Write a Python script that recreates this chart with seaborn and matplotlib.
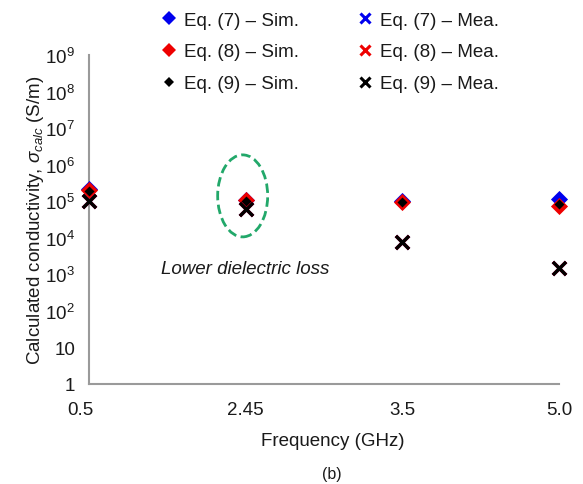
import matplotlib
matplotlib.use("Agg")
import matplotlib.pyplot as plt
import matplotlib.transforms as mtransforms
from matplotlib.lines import Line2D
from matplotlib.patches import Ellipse
import pandas as pd
import seaborn as sns

# Frequency bands (categorical axis) and conductivity values (S/m)
frequencies = ["0.5", "2.45", "3.5", "5.0"]
sim_eq7 = [2.1e5, 1.1e5, 1.0e5, 1.15e5]
sim_eq8 = [2.0e5, 1.05e5, 0.98e5, 7.5e4]
sim_eq9 = [1.9e5, 1.0e5, 0.95e5, 8.2e4]
mea_eq7 = [1.0e5, 6.0e4, 7.5e3, 1.5e3]
mea_eq8 = [1.0e5, 6.0e4, 7.5e3, 1.5e3]
mea_eq9 = [1.0e5, 6.0e4, 7.5e3, 1.5e3]

series_labels = ["Eq. (7) \u2013 Sim.", "Eq. (8) \u2013 Sim.", "Eq. (9) \u2013 Sim.",
                 "Eq. (7) \u2013 Mea.", "Eq. (8) \u2013 Mea.", "Eq. (9) \u2013 Mea."]

ytick_values = [1, 1e1, 1e2, 1e3, 1e4, 1e5, 1e6, 1e7, 1e8, 1e9]
ytick_labels = ["1", "10"] + [r"$\mathregular{10^{%d}}$" % k for k in range(2, 10)]

annotation_text = "Lower dielectric loss"

sns.set_theme(style="white")
plt.rcParams["font.family"] = ["Liberation Sans", "DejaVu Sans"]
plt.rcParams["mathtext.fontset"] = "custom"
plt.rcParams["mathtext.rm"] = "Liberation Sans"
plt.rcParams["mathtext.it"] = "Liberation Sans:italic"
plt.rcParams["mathtext.bf"] = "Liberation Sans:bold"

FS = 13.5
TXT = "#1a1a1a"
AX = "#9a9a9a"

fig = plt.figure(figsize=(5.83, 4.85), dpi=100)
ax = fig.add_axes([89 / 583, 1 - 385 / 485, 470 / 583, 329 / 485])

# One styled layer per series: (values, colour, marker, size, line width)
layers = [
    (sim_eq7, "#0000ee", "D", 76, 0),
    (sim_eq8, "#ee0000", "D", 76, 0),
    (sim_eq9, "#000000", "D", 26, 0),
    (mea_eq7, "#0000ee", "x", 90, 2.4),
    (mea_eq8, "#ee0000", "x", 90, 2.4),
    (mea_eq9, "#000000", "x", 90, 2.4),
]
for (vals, col, mk, size, lw), lab in zip(layers, series_labels):
    df = pd.DataFrame({"Frequency": frequencies, "Conductivity": vals})
    if mk == "x":
        sns.scatterplot(data=df, x="Frequency", y="Conductivity", ax=ax,
                        color=col, marker=mk, s=size, linewidth=lw,
                        clip_on=False, zorder=3, legend=False)
    else:
        sns.scatterplot(data=df, x="Frequency", y="Conductivity", ax=ax,
                        color=col, marker=mk, s=size, linewidth=lw,
                        edgecolor=col, clip_on=False, zorder=3, legend=False)

ax.set_yscale("log")
ax.set_ylim(1, 1e9)
ax.set_xlim(0, len(frequencies) - 1)
ax.set_yticks(ytick_values)
ax.set_yticklabels(ytick_labels)
ax.yaxis.set_minor_locator(matplotlib.ticker.NullLocator())

for side in ["top", "right"]:
    ax.spines[side].set_visible(False)
for side in ["left", "bottom"]:
    ax.spines[side].set_color(AX)
    ax.spines[side].set_linewidth(1.5)

ax.tick_params(axis="both", direction="in", colors=AX, labelcolor=TXT,
               labelsize=FS, width=1.2)
ax.tick_params(axis="y", length=2.5, pad=10)
ax.tick_params(axis="x", length=3.5, pad=12)

# First frequency label sits slightly left of the axis corner
first_lbl = ax.get_xticklabels()[0]
first_lbl.set_transform(first_lbl.get_transform() +
                        mtransforms.ScaledTranslation(-9 / 100, 0, fig.dpi_scale_trans))

ax.set_xlabel("Frequency (GHz)", fontsize=FS, color=TXT)
ax.xaxis.label.set_va("center")
ax.xaxis.set_label_coords((333 - 89) / 470, -(442 - 385) / 329)
ax.set_ylabel(r"Calculated conductivity, $\sigma_{calc}$ (S/m)", fontsize=FS, color=TXT)
ax.yaxis.label.set_va("center")
ax.yaxis.set_label_coords(-(89 - 36) / 470, 0.5)

fig.text(332 / 583, 1 - 475 / 485, "(b)", ha="center", va="center",
         fontsize=FS * 0.85, color=TXT)

# Annotation below the 2.45 GHz group
ax.text(1, 1.4e3, annotation_text, ha="center", va="center",
        fontsize=FS, style="italic", color=TXT)

# Dashed ellipse around the 2.45 GHz points
fig.canvas.draw()
cx, cy = ax.transData.transform((1, 1.4e5))
acx, acy = ax.transAxes.inverted().transform((cx - 3, cy))
ax.add_patch(Ellipse((acx, acy), 50 / 470, 82 / 329, transform=ax.transAxes,
                     fill=False, edgecolor="#22a86a", linewidth=2.0,
                     linestyle=(0, (3.4, 1.6)), clip_on=False, zorder=2))

# Legend
handles = [
    Line2D([], [], linestyle="none", marker="D", color="#0000ee", markersize=7.2, markeredgewidth=0),
    Line2D([], [], linestyle="none", marker="D", color="#ee0000", markersize=7.2, markeredgewidth=0),
    Line2D([], [], linestyle="none", marker="D", color="#000000", markersize=4.6, markeredgewidth=0),
    Line2D([], [], linestyle="none", marker="x", color="#0000ee", markersize=7.5, markeredgewidth=2.2),
    Line2D([], [], linestyle="none", marker="x", color="#ee0000", markersize=7.5, markeredgewidth=2.2),
    Line2D([], [], linestyle="none", marker="x", color="#000000", markersize=7.5, markeredgewidth=2.2),
]
fig.legend(handles, series_labels, ncol=2, loc="upper left",
           bbox_to_anchor=(152 / 583, 1 - 3 / 485), frameon=False,
           fontsize=FS, labelcolor=TXT, borderpad=0, handlelength=0.8,
           handletextpad=0.4, columnspacing=3.15, labelspacing=0.79)

fig.savefig("out.png", dpi=100)
